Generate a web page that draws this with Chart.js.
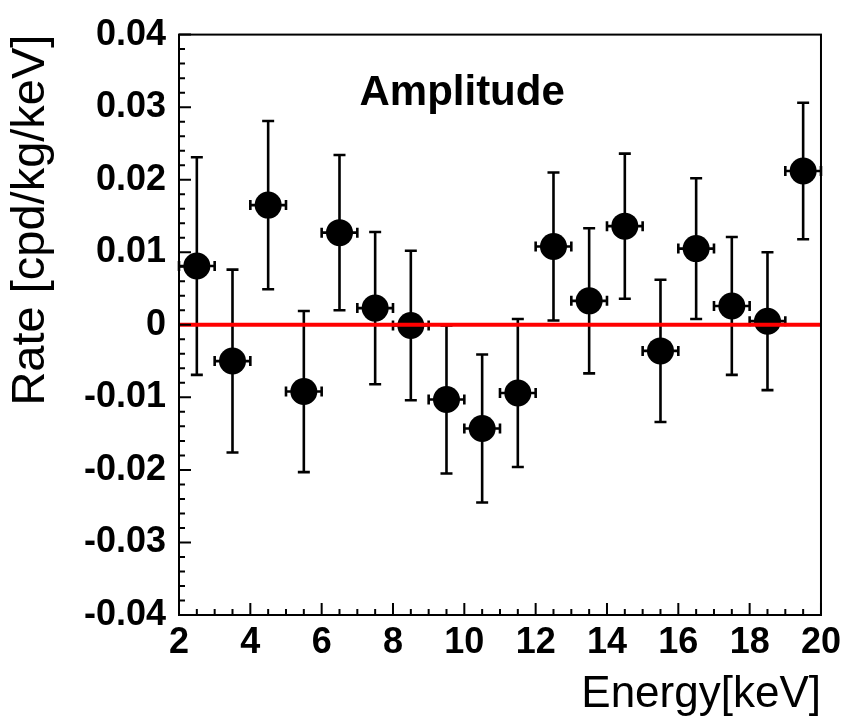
<!DOCTYPE html>
<html>
<head>
<meta charset="utf-8">
<title>Amplitude</title>
<script src="https://cdn.jsdelivr.net/npm/chart.js@4.4.1/dist/chart.umd.min.js"></script>
<style>
  html, body { margin: 0; padding: 0; background: #ffffff; }
  #amplitude-chart { display: block; }
</style>
</head>
<body>
<canvas id="amplitude-chart" width="847" height="727"></canvas>
<script>

// bin centres (keV) and the modulation amplitude
var energy = [ 2.5, 3.5, 4.5, 5.5, 6.5, 7.5, 8.5, 9.5, 10.5, 11.5, 12.5, 13.5, 14.5, 15.5, 16.5, 17.5, 18.5, 19.5 ];
var rate = [ 0.0081, -0.0050, 0.0165, -0.0092, 0.0127, 0.0023, -0.0001, -0.0103, -0.0143, -0.0094, 0.0108, 0.0033, 0.0136, -0.0036, 0.0105, 0.0026, 0.0005, 0.0212 ];
var rateErr = [ 0.0150, 0.0126, 0.0116, 0.0111, 0.0107, 0.0105, 0.0103, 0.0102, 0.0102, 0.0102, 0.0102, 0.0100, 0.0100, 0.0098, 0.0097, 0.0095, 0.0095, 0.0094 ];
var energyErr = [ 0.5, 0.5, 0.5, 0.5, 0.5, 0.5, 0.5, 0.5, 0.5, 0.5, 0.5, 0.5, 0.5, 0.5, 0.5, 0.5, 0.5, 0.5 ];

var xTicks = [ 2, 4, 6, 8, 10, 12, 14, 16, 18, 20 ];
var xTickLabels = [ '2', '4', '6', '8', '10', '12', '14', '16', '18', '20' ];
var yTicks = [ -0.04, -0.03, -0.02, -0.01, 0, 0.01, 0.02, 0.03, 0.04 ];
var yTickLabels = [ '-0.04', '-0.03', '-0.02', '-0.01', '0', '0.01', '0.02', '0.03', '0.04' ];

var zeroLine = [ { x: 2, y: 0 }, { x: 20, y: 0 } ];

var FONT = '"Liberation Sans", Arial, Helvetica, sans-serif';

( function() {

  var labelFor = function( ticks, labels, value ) {
    for ( var i = 0; i < ticks.length; i++ ) {
      if ( Math.abs( ticks[ i ] - value ) < 1e-9 ) return labels[ i ];
    }
    return '';
  };

  // error bars under the markers
  var errorBars = {
    id: 'errorBars',
    beforeDatasetsDraw: function( chart ) {
      var ctx = chart.ctx;
      var xs = chart.scales.x;
      var ys = chart.scales.y;
      ctx.save();
      ctx.strokeStyle = '#000000';
      ctx.lineWidth = 2.6;
      energy.forEach( function( e, i ) {
        var px = xs.getPixelForValue( e );
        var py = ys.getPixelForValue( rate[ i ] );
        var top = ys.getPixelForValue( rate[ i ] + rateErr[ i ] );
        var bot = ys.getPixelForValue( rate[ i ] - rateErr[ i ] );
        var lft = xs.getPixelForValue( e - energyErr[ i ] );
        var rgt = xs.getPixelForValue( e + energyErr[ i ] );
        ctx.beginPath();
        ctx.moveTo( px, top ); ctx.lineTo( px, bot );
        ctx.moveTo( px - 6, top ); ctx.lineTo( px + 6, top );
        ctx.moveTo( px - 6, bot ); ctx.lineTo( px + 6, bot );
        ctx.moveTo( lft, py ); ctx.lineTo( rgt, py );
        ctx.moveTo( lft, py - 5 ); ctx.lineTo( lft, py + 5 );
        ctx.moveTo( rgt, py - 5 ); ctx.lineTo( rgt, py + 5 );
        ctx.stroke();
      } );
      ctx.restore();
    }
  };

  // ROOT style frame with inward ticks, plus the pad label
  var frame = {
    id: 'frame',
    afterDraw: function( chart ) {
      var ctx = chart.ctx;
      var a = chart.chartArea;
      var xs = chart.scales.x;
      var ys = chart.scales.y;
      var v, p, major;
      ctx.save();
      ctx.strokeStyle = '#000000';
      ctx.lineWidth = 2;
      ctx.strokeRect( a.left, a.top, a.right - a.left, a.bottom - a.top );

      ctx.beginPath();
      for ( v = 2; v <= 20.001; v += 0.5 ) {
        p = xs.getPixelForValue( v );
        major = Math.abs( v / 2 - Math.round( v / 2 ) ) < 1e-6;
        ctx.moveTo( p, a.bottom );
        ctx.lineTo( p, a.bottom - ( major ? 12 : 6 ) );
      }
      for ( v = -0.04; v <= 0.04001; v += 0.002 ) {
        p = ys.getPixelForValue( v );
        major = Math.abs( v / 0.01 - Math.round( v / 0.01 ) ) < 1e-6;
        ctx.moveTo( a.left, p );
        ctx.lineTo( a.left + ( major ? 12 : 6 ), p );
      }
      ctx.stroke();

      ctx.fillStyle = '#000000';
      ctx.font = 'bold 42px ' + FONT;
      ctx.textAlign = 'left';
      ctx.textBaseline = 'alphabetic';
      ctx.fillText( 'Amplitude', xs.getPixelForValue( 7.06 ), ys.getPixelForValue( 0.0303 ) );
      ctx.restore();
    }
  };

  var createChart = function() {

    var config = {
      type: 'scatter',
      data: {
        datasets: [
          {
            label: 'zero',
            type: 'line',
            data: zeroLine,
            borderColor: '#ff0000',
            borderWidth: 4,
            pointRadius: 0,
            fill: false,
            order: 0
          },
          {
            label: 'amplitude',
            data: energy.map( function( e, i ) {
              return { x: e, y: rate[ i ] };
            } ),
            backgroundColor: '#000000',
            borderColor: '#000000',
            borderWidth: 0,
            pointRadius: 13.5,
            pointHoverRadius: 13.5,
            order: 1
          }
        ]
      },
      options: {
        responsive: false,
        animation: false,
        devicePixelRatio: 1,
        layout: { padding: { top: 24, right: 24, left: 0, bottom: 0 } },
        plugins: {
          legend: { display: false },
          tooltip: { enabled: false }
        },
        scales: {
          x: {
            type: 'linear',
            min: 2,
            max: 20,
            afterFit: function( scale ) { scale.height = 112; },
            afterBuildTicks: function( scale ) {
              scale.ticks = xTicks.map( function( v ) { return { value: v }; } );
            },
            grid: { display: false, drawTicks: false },
            border: { display: false },
            ticks: {
              padding: 6,
              maxRotation: 0,
              autoSkip: false,
              color: '#000000',
              font: { family: FONT, size: 36, weight: 'bold' },
              callback: function( v ) { return labelFor( xTicks, xTickLabels, v ); }
            },
            title: {
              display: true,
              text: 'Energy[keV]',
              align: 'end',
              color: '#000000',
              padding: { top: 0, bottom: 6 },
              font: { family: FONT, size: 44 }
            }
          },
          y: {
            type: 'linear',
            min: -0.04,
            max: 0.04,
            afterFit: function( scale ) { scale.width = 179; },
            afterBuildTicks: function( scale ) {
              scale.ticks = yTicks.map( function( v ) { return { value: v }; } );
            },
            grid: { display: false, drawTicks: false },
            border: { display: false },
            ticks: {
              padding: 13,
              autoSkip: false,
              color: '#000000',
              font: { family: FONT, size: 36, weight: 'bold' },
              callback: function( v ) { return labelFor( yTicks, yTickLabels, v ); }
            },
            title: {
              display: true,
              text: 'Rate [cpd/kg/keV]',
              align: 'end',
              color: '#000000',
              padding: { top: 3, bottom: 0 },
              font: { family: FONT, size: 47 }
            }
          }
        }
      },
      plugins: [ errorBars, frame ]
    };

    return new Chart( document.getElementById( 'amplitude-chart' ), config );

  };

  createChart();

} )();

</script>
</body>
</html>
